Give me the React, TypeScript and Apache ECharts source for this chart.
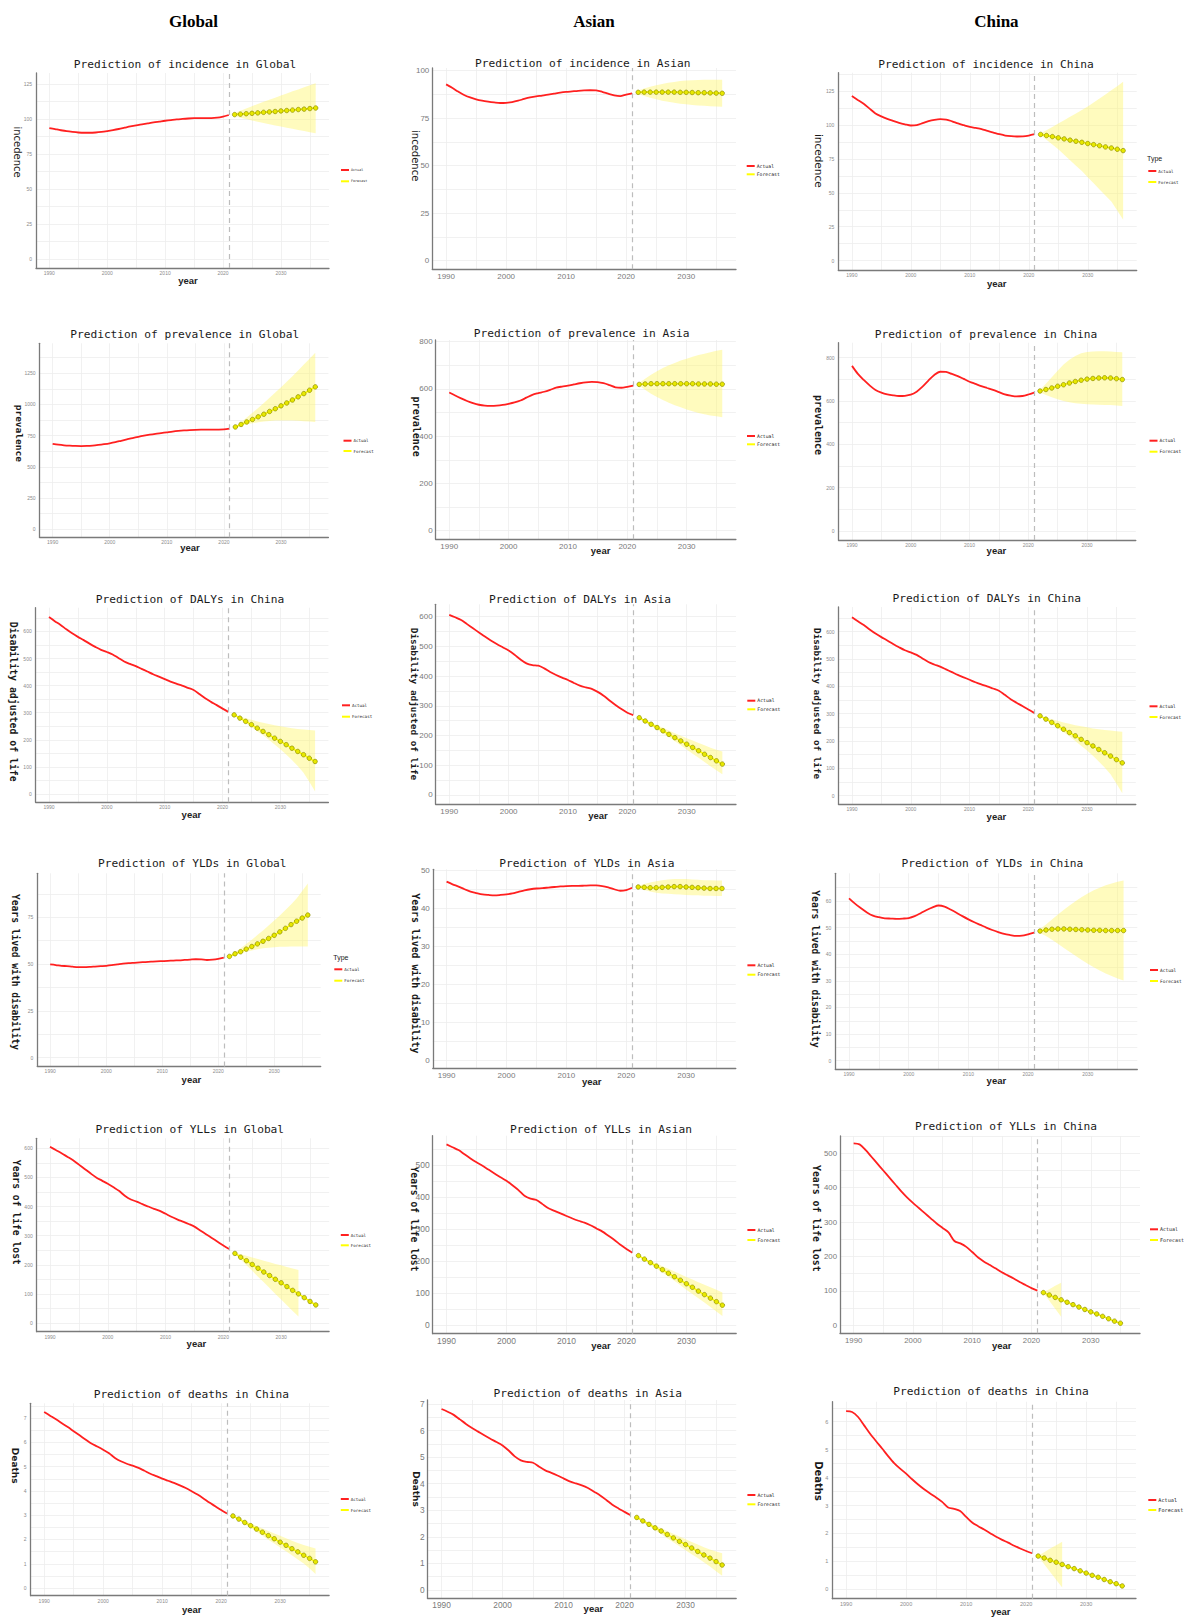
import React, { useEffect, useRef } from "react";
import * as echarts from "echarts";

// ---------------- DATA ----------------
const YEARS_ACTUAL = [1990, 1991, 1992, 1993, 1994, 1995, 1996, 1997, 1998, 1999, 2000, 2001, 2002, 2003, 2004, 2005, 2006, 2007, 2008, 2009, 2010, 2011, 2012, 2013, 2014, 2015, 2016, 2017, 2018, 2019, 2020, 2021];
const YEARS_FORECAST = [2022, 2023, 2024, 2025, 2026, 2027, 2028, 2029, 2030, 2031, 2032, 2033, 2034, 2035, 2036];
const X_LABELS = [1990, 2000, 2010, 2020, 2030];
const X_GRID = [1990, 1995, 2000, 2005, 2010, 2015, 2020, 2025, 2030, 2035];
const DIVIDER_YEAR = 2021;

const TICKS_INC_125 = [0, 25, 50, 75, 100, 125];
const TICKS_INC_100 = [0, 25, 50, 75, 100];
const TICKS_PREV_GLOBAL = [0, 250, 500, 750, 1000, 1250];
const TICKS_PREV_800 = [0, 200, 400, 600, 800];
const TICKS_600 = [0, 100, 200, 300, 400, 500, 600];
const TICKS_500 = [0, 100, 200, 300, 400, 500];
const TICKS_YLD_GLOBAL = [0, 25, 50, 75];
const TICKS_YLD_ASIA = [0, 10, 20, 30, 40, 50];
const TICKS_YLD_CHINA = [0, 10, 20, 30, 40, 50, 60];
const TICKS_DEATH_7 = [0, 1, 2, 3, 4, 5, 6, 7];
const TICKS_DEATH_6 = [0, 1, 2, 3, 4, 5, 6];

// incidence
const incGlobalActual = [93.6, 92.8, 92.0, 91.3, 90.8, 90.4, 90.2, 90.2, 90.4, 90.8, 91.4, 92.1, 92.9, 93.8, 94.7, 95.5, 96.2, 96.9, 97.6, 98.2, 98.8, 99.3, 99.7, 100.1, 100.4, 100.6, 100.7, 100.7, 100.7, 101.0, 101.8, 102.9];
const incGlobalForecast = [103.2, 103.5, 103.8, 104.1, 104.4, 104.8, 105.1, 105.4, 105.8, 106.1, 106.4, 106.8, 107.1, 107.5, 107.9];
const incGlobalUpper = [104.3, 106.0, 107.6, 109.2, 110.8, 112.3, 113.8, 115.3, 116.8, 118.3, 119.8, 121.2, 122.7, 124.1, 125.5];
const incGlobalLower = [102.1, 101.0, 100.0, 99.0, 98.1, 97.2, 96.3, 95.4, 94.6, 93.8, 93.0, 92.2, 91.4, 90.6, 89.8];

const incAsianActual = [92.8, 91.0, 89.0, 87.2, 85.9, 84.9, 84.2, 83.7, 83.3, 83.0, 83.1, 83.5, 84.2, 85.1, 85.9, 86.5, 86.9, 87.4, 87.9, 88.4, 88.8, 89.1, 89.4, 89.6, 89.7, 89.6, 88.9, 87.9, 87.0, 86.6, 87.4, 88.1];
const incAsianForecast = [88.6, 88.7, 88.7, 88.7, 88.7, 88.7, 88.7, 88.6, 88.6, 88.5, 88.4, 88.4, 88.3, 88.2, 88.1];
const incAsianUpper = [89.5, 90.6, 91.5, 92.3, 93.0, 93.6, 94.1, 94.5, 94.8, 95.0, 95.1, 95.2, 95.2, 95.2, 95.2];
const incAsianLower = [87.7, 86.7, 85.7, 84.9, 84.2, 83.6, 83.1, 82.6, 82.3, 82.0, 81.7, 81.5, 81.3, 81.1, 81.0];

const incChinaActual = [121.3, 118.4, 115.6, 112.0, 108.5, 106.3, 104.5, 103.0, 101.6, 100.5, 99.6, 99.9, 101.3, 102.8, 103.8, 104.3, 104.0, 102.7, 101.1, 99.8, 98.6, 97.8, 96.9, 95.6, 94.4, 93.2, 92.2, 91.7, 91.5, 91.6, 92.2, 93.2];
const incChinaForecast = [93.0, 92.2, 91.4, 90.5, 89.7, 88.8, 88.0, 87.2, 86.3, 85.5, 84.7, 83.8, 83.0, 82.1, 81.1];
const incChinaUpper = [93.8, 96.0, 98.5, 101.0, 103.5, 106.0, 108.5, 111.0, 113.5, 116.5, 119.5, 122.5, 125.5, 128.5, 131.9];
const incChinaLower = [92.2, 89.0, 85.5, 82.0, 78.0, 74.0, 70.0, 66.0, 61.5, 57.0, 52.5, 48.0, 43.5, 37.0, 30.1];

// prevalence
const prevGlobalActual = [685, 678, 673, 670, 668, 667, 668, 671, 676, 682, 689, 698, 709, 720, 731, 741, 750, 758, 765, 771, 777, 783, 788, 792, 795, 797, 798, 798, 798, 799, 801, 806];
const prevGlobalForecast = [820, 840, 860, 880, 901, 922, 944, 966, 989, 1012, 1036, 1061, 1087, 1114, 1141];
const prevGlobalUpper = [822, 858, 895, 933, 972, 1012, 1053, 1095, 1138, 1182, 1227, 1273, 1320, 1367, 1414];
const prevGlobalLower = [818, 830, 841, 850, 858, 864, 868, 871, 872, 872, 871, 869, 866, 863, 860];

const prevAsiaActual = [585, 572, 560, 549, 540, 533, 529, 528, 529, 532, 537, 543, 551, 563, 575, 582, 588, 596, 605, 610, 614, 619, 624, 628, 630, 629, 624, 616, 607, 605, 609, 614];
const prevAsiaForecast = [619, 621, 622, 622, 622, 622, 622, 622, 622, 622, 621, 621, 621, 620, 620];
const prevAsiaUpper = [625, 643, 660, 675, 688, 700, 710, 720, 728, 736, 743, 749, 755, 761, 766];
const prevAsiaLower = [614, 596, 580, 566, 553, 541, 531, 522, 513, 505, 498, 493, 488, 484, 480];

const prevChinaActual = [762, 725, 697, 672, 651, 639, 631, 626, 623, 624, 629, 643, 666, 694, 720, 735, 734, 725, 715, 702, 689, 679, 669, 660, 651, 641, 631, 625, 621, 623, 630, 639];
const prevChinaForecast = [646, 653, 660, 668, 675, 683, 690, 696, 701, 704, 706, 707, 706, 703, 699];
const prevChinaUpper = [652, 680, 710, 740, 768, 790, 808, 820, 826, 828, 829, 829, 828, 826, 825];
const prevChinaLower = [640, 628, 617, 608, 600, 594, 590, 587, 585, 584, 583, 582, 581, 579, 577];

// DALYs
const dalyChinaActual = [653, 638, 624, 608, 593, 580, 568, 555, 543, 532, 524, 515, 502, 489, 480, 472, 462, 452, 442, 433, 424, 415, 407, 400, 392, 384, 369, 353, 340, 328, 315, 303];
const dalyChinaForecast = [292, 280, 268, 256, 243, 231, 219, 206, 194, 182, 169, 157, 145, 132, 120];
const dalyChinaUpper = [293, 286, 280, 274, 268, 263, 258, 254, 250, 246, 243, 240, 238, 236, 234];
const dalyChinaLower = [290, 276, 262, 247, 232, 217, 200, 183, 165, 146, 125, 103, 78, 45, 9];

const dalyAsiaActual = [606, 598, 589, 575, 561, 547, 533, 520, 508, 497, 486, 472, 456, 443, 437, 435, 426, 414, 404, 395, 387, 377, 368, 362, 357, 347, 334, 318, 303, 289, 277, 269];
const dalyAsiaForecast = [260, 249, 238, 227, 216, 204, 193, 182, 171, 160, 149, 137, 126, 115, 104];
const dalyAsiaUpper = [262, 253, 244, 235, 226, 217, 208, 199, 191, 183, 175, 167, 159, 152, 146];
const dalyAsiaLower = [258, 245, 233, 220, 207, 194, 181, 167, 153, 139, 125, 111, 97, 83, 70];

// YLDs
const yldGlobalActual = [49.8, 49.5, 49.1, 48.9, 48.6, 48.4, 48.4, 48.5, 48.7, 48.9, 49.1, 49.4, 49.8, 50.2, 50.5, 50.7, 50.9, 51.1, 51.3, 51.5, 51.6, 51.7, 51.9, 52.0, 52.2, 52.4, 52.6, 52.5, 52.2, 52.4, 52.8, 53.4];
const yldGlobalForecast = [54.1, 55.5, 56.6, 58.0, 59.4, 60.8, 62.2, 63.7, 65.4, 67.2, 69.1, 71.1, 72.9, 74.6, 76.2];
const yldGlobalUpper = [54.5, 56.5, 58.5, 60.8, 63.0, 65.5, 68.0, 70.6, 73.3, 76.0, 78.9, 81.9, 85.1, 89.0, 93.1];
const yldGlobalLower = [53.8, 54.9, 55.8, 56.6, 57.3, 57.9, 58.4, 58.7, 59.0, 59.2, 59.3, 59.4, 59.4, 59.4, 59.4];

const yldAsiaActual = [47.1, 46.4, 45.8, 45.1, 44.5, 44.1, 43.75, 43.6, 43.5, 43.6, 43.75, 44.0, 44.4, 44.8, 45.1, 45.3, 45.4, 45.55, 45.7, 45.85, 45.95, 46.0, 46.0, 46.05, 46.1, 46.1, 45.95, 45.6, 45.1, 44.7, 44.9, 45.5];
const yldAsiaForecast = [45.7, 45.6, 45.5, 45.5, 45.6, 45.7, 45.8, 45.8, 45.7, 45.6, 45.5, 45.4, 45.3, 45.3, 45.3];
const yldAsiaUpper = [46.0, 46.5, 46.9, 47.2, 47.5, 47.7, 47.8, 47.8, 47.8, 47.7, 47.6, 47.5, 47.5, 47.4, 47.4];
const yldAsiaLower = [45.4, 44.9, 44.5, 44.2, 44.0, 43.9, 43.8, 43.7, 43.6, 43.5, 43.5, 43.4, 43.4, 43.3, 43.3];

const yldChinaActual = [61.0, 59.0, 57.3, 55.7, 54.5, 53.9, 53.5, 53.4, 53.3, 53.4, 53.6, 54.3, 55.4, 56.6, 57.6, 58.3, 57.9, 56.8, 55.6, 54.3, 53.1, 52.0, 51.0, 50.0, 49.1, 48.3, 47.6, 47.2, 46.9, 47.0, 47.5, 48.1];
const yldChinaForecast = [48.7, 49.1, 49.4, 49.5, 49.5, 49.4, 49.3, 49.2, 49.1, 49.0, 49.0, 48.9, 48.9, 48.9, 48.9];
const yldChinaUpper = [49.5, 51.2, 53.0, 54.9, 56.7, 58.4, 60.0, 61.5, 62.8, 64.0, 65.0, 65.9, 66.6, 67.2, 67.7];
const yldChinaLower = [48.0, 46.8, 45.4, 43.9, 42.3, 40.8, 39.3, 37.8, 36.4, 35.1, 33.9, 32.8, 31.8, 30.9, 30.1];

// YLLs
const yllGlobalActual = [605, 594, 583, 571, 559, 544, 529, 514, 500, 489, 478, 466, 453, 436, 424, 417, 408, 400, 392, 385, 375, 365, 356, 348, 340, 331, 318, 305, 292, 279, 266, 254];
const yllGlobalForecast = [239, 226, 214, 201, 188, 175, 163, 150, 138, 125, 112, 100, 87, 74, 62];
const yllGlobalUpper = [241, 236, 231, 225, 220, 214, 209, 203, 198, 192, 187, 182];
const yllGlobalLower = [237, 218, 198, 179, 159, 140, 120, 100, 81, 61, 41, 22];

const yllAsianActual = [565, 556, 547, 534, 521, 509, 498, 486, 474, 462, 451, 437, 422, 404, 395, 391, 378, 365, 357, 349, 341, 333, 326, 320, 312, 302, 292, 279, 266, 251, 238, 226];
const yllAsianForecast = [217, 206, 195, 184, 173, 162, 151, 140, 129, 118, 106, 95, 84, 73, 62];
const yllAsianUpper = [219, 210, 201, 193, 184, 176, 167, 159, 150, 142, 134, 126, 118, 110, 102];
const yllAsianLower = [215, 203, 190, 177, 164, 151, 138, 124, 110, 97, 84, 70, 56, 42, 28];

const yllChinaActual = [529, 526, 510, 490, 470, 450, 430, 410, 390, 372, 356, 341, 326, 311, 296, 283, 270, 245, 238, 228, 213, 197, 185, 175, 165, 154, 145, 136, 126, 117, 108, 101];
const yllChinaForecast = [95, 88, 81, 74, 67, 60, 53, 46, 39, 33, 26, 19, 12, 6];
const yllChinaUpper = [96, 105, 115, 124];
const yllChinaLower = [94, 71, 48, 25];

// deaths
const deathCol1Actual = [7.25, 7.10, 6.95, 6.79, 6.63, 6.46, 6.29, 6.12, 5.95, 5.83, 5.70, 5.55, 5.36, 5.22, 5.12, 5.04, 4.95, 4.83, 4.71, 4.61, 4.51, 4.42, 4.33, 4.23, 4.12, 3.99, 3.85, 3.69, 3.52, 3.37, 3.21, 3.07];
const deathCol1Forecast = [2.97, 2.84, 2.70, 2.57, 2.43, 2.30, 2.16, 2.03, 1.89, 1.76, 1.62, 1.49, 1.35, 1.22, 1.08];
const deathCol1Upper = [3.0, 2.89, 2.78, 2.67, 2.56, 2.45, 2.35, 2.25, 2.15, 2.05, 1.95, 1.86, 1.77, 1.70, 1.63];
const deathCol1Lower = [2.94, 2.79, 2.63, 2.47, 2.31, 2.15, 1.99, 1.83, 1.67, 1.51, 1.35, 1.18, 1.01, 0.80, 0.58];

const deathAsiaActual = [6.81, 6.71, 6.59, 6.42, 6.25, 6.10, 5.96, 5.82, 5.69, 5.57, 5.44, 5.25, 5.03, 4.88, 4.82, 4.79, 4.64, 4.50, 4.41, 4.31, 4.20, 4.09, 4.01, 3.94, 3.84, 3.70, 3.56, 3.39, 3.21, 3.07, 2.94, 2.81];
const deathAsiaForecast = [2.73, 2.60, 2.47, 2.34, 2.22, 2.09, 1.96, 1.83, 1.71, 1.58, 1.45, 1.32, 1.20, 1.07, 0.94];
const deathAsiaUpper = [2.76, 2.65, 2.54, 2.43, 2.33, 2.22, 2.12, 2.01, 1.91, 1.81, 1.71, 1.61, 1.52, 1.45, 1.38];
const deathAsiaLower = [2.70, 2.55, 2.40, 2.25, 2.10, 1.95, 1.80, 1.65, 1.50, 1.35, 1.20, 1.04, 0.88, 0.71, 0.54];

const deathChinaActual = [6.38, 6.35, 6.17, 5.87, 5.57, 5.30, 5.04, 4.77, 4.52, 4.32, 4.14, 3.94, 3.75, 3.58, 3.43, 3.29, 3.13, 2.93, 2.88, 2.80, 2.59, 2.39, 2.26, 2.14, 2.01, 1.88, 1.77, 1.67, 1.56, 1.46, 1.37, 1.29];
const deathChinaForecast = [1.19, 1.12, 1.04, 0.97, 0.89, 0.81, 0.74, 0.66, 0.58, 0.50, 0.43, 0.35, 0.27, 0.20, 0.12];
const deathChinaUpper = [1.20, 1.33, 1.46, 1.58, 1.70];
const deathChinaLower = [1.18, 0.90, 0.62, 0.34, 0.06];

const COLUMN_HEADERS = ["Global", "Asian", "China"];

// ---------------- STYLE / LAYOUT ----------------
const MONO = "'DejaVu Sans Mono', monospace";
const SANS = "'DejaVu Sans', sans-serif";
const ARIAL = "'Liberation Sans', Arial, sans-serif";
const RED = "#FF2020";
const YELLOW_LINE = "#FFFF00";
const BAND_FILL = "rgba(255, 245, 100, 0.42)";
const GRID_COLOR = "#EDEDED";

const X_RANGE = [1987.7, 2038.3];

const PANELS: any[] = [
  // row 1
  { title: "Prediction of incidence in Global", yName: "incedence", yFont: SANS, yFs: 10, yBold: false,
    actual: incGlobalActual, forecast: incGlobalForecast, upper: incGlobalUpper, lower: incGlobalLower,
    box: [36, 73, 329, 268], yRange: [-6.4, 132.9], yTicks: TICKS_INC_125, tickFs: 5,
    titlePos: [185, 64], yNamePos: [17, 152], xNamePos: [188, 280], legend: { x: 341, y1: 170, y2: 181.3, fs: 3.4 } },
  { title: "Prediction of incidence in Asian", yName: "incedence", yFont: SANS, yFs: 10, yBold: false,
    actual: incAsianActual, forecast: incAsianForecast, upper: incAsianUpper, lower: incAsianLower,
    box: [432.3, 68, 736, 269.3], yRange: [-4.5, 101.4], yTicks: TICKS_INC_100, tickFs: 8,
    titlePos: [582.7, 63.3], yNamePos: [415, 155.7], xNamePos: null, legend: { x: 746.7, y1: 166, y2: 174.3, fs: 4.8 } },
  { title: "Prediction of incidence in China", yName: "incedence", yFont: SANS, yFs: 10.5, yBold: false,
    actual: incChinaActual, forecast: incChinaForecast, upper: incChinaUpper, lower: incChinaLower,
    box: [838.3, 72.7, 1136.7, 270], yRange: [-6.9, 138.5], yTicks: TICKS_INC_125, tickFs: 5,
    titlePos: [986, 64], yNamePos: [819, 160.8], xNamePos: [996.7, 283.3], legend: { x: 1148.3, y1: 171, y2: 182, fs: 4.2, type: [1147, 158.3] } },
  // row 2
  { title: "Prediction of prevalence in Global", yName: "prevalence", yFont: MONO, yFs: 9.5, yBold: true,
    actual: prevGlobalActual, forecast: prevGlobalForecast, upper: prevGlobalUpper, lower: prevGlobalLower,
    box: [39.5, 343.3, 328.4, 537.3], yRange: [-64, 1490], yTicks: TICKS_PREV_GLOBAL, tickFs: 5,
    titlePos: [184.7, 334.7], yNamePos: [19, 433.3], xNamePos: [190, 547.3], legend: { x: 343.5, y1: 440.7, y2: 451, fs: 4.2 } },
  { title: "Prediction of prevalence in Asia", yName: "prevalence", yFont: MONO, yFs: 10, yBold: true,
    actual: prevAsiaActual, forecast: prevAsiaForecast, upper: prevAsiaUpper, lower: prevAsiaLower,
    box: [435.6, 340, 735.9, 539.3], yRange: [-36.4, 807], yTicks: TICKS_PREV_800, tickFs: 8,
    titlePos: [581.6, 333.3], yNamePos: [416.6, 426.7], xNamePos: [600.6, 550], legend: { x: 747, y1: 436, y2: 444.3, fs: 4.8 } },
  { title: "Prediction of prevalence in China", yName: "prevalence", yFont: MONO, yFs: 10, yBold: true,
    actual: prevChinaActual, forecast: prevChinaForecast, upper: prevChinaUpper, lower: prevChinaLower,
    box: [838.5, 342.7, 1135.8, 540], yRange: [-41.5, 869], yTicks: TICKS_PREV_800, tickFs: 5,
    titlePos: [986, 334], yNamePos: [818.8, 425], xNamePos: [996.4, 550.5], legend: { x: 1149.5, y1: 440.7, y2: 451.7, fs: 4.5 } },
  // row 3
  { title: "Prediction of DALYs in China", yName: "Disability adjusted of life", yFont: MONO, yFs: 9.85, yBold: true,
    actual: dalyChinaActual, forecast: dalyChinaForecast, upper: dalyChinaUpper, lower: dalyChinaLower,
    box: [35.7, 607.7, 328.4, 802.3], yRange: [-30.7, 687.6], yTicks: TICKS_600, tickFs: 5,
    titlePos: [190, 599.3], yNamePos: [13.7, 701.7], xNamePos: [191.4, 814.3], legend: { x: 342, y1: 705.3, y2: 716.7, fs: 4.2 } },
  { title: "Prediction of DALYs in Asia", yName: "Disability adjusted of life", yFont: MONO, yFs: 9.4, yBold: true,
    actual: dalyAsiaActual, forecast: dalyAsiaForecast, upper: dalyAsiaUpper, lower: dalyAsiaLower,
    box: [435.6, 604.3, 736, 804.3], yRange: [-31.3, 641.7], yTicks: TICKS_600, tickFs: 8,
    titlePos: [580, 599.3], yNamePos: [414.3, 704], xNamePos: [598, 815.3], legend: { x: 747.3, y1: 700.7, y2: 709.3, fs: 4.8 } },
  { title: "Prediction of DALYs in China", yName: "Disability adjusted of life", yFont: MONO, yFs: 9.3, yBold: true,
    actual: dalyChinaActual, forecast: dalyChinaForecast, upper: dalyChinaUpper, lower: dalyChinaLower,
    box: [838.5, 607, 1135.8, 804.3], yRange: [-31.5, 690.2], yTicks: TICKS_600, tickFs: 5,
    titlePos: [986.8, 598.3], yNamePos: [817.3, 703.6], xNamePos: [996.4, 816.4], legend: { x: 1149.5, y1: 706.3, y2: 717, fs: 4.5 } },
  // row 4
  { title: "Prediction of YLDs in Global", yName: "Years lived with disability", yFont: MONO, yFs: 9.6, yBold: true,
    actual: yldGlobalActual, forecast: yldGlobalForecast, upper: yldGlobalUpper, lower: yldGlobalLower,
    box: [37.3, 873.3, 320.7, 1066.4], yRange: [-4.65, 98.5], yTicks: TICKS_YLD_GLOBAL, tickFs: 5,
    titlePos: [192.3, 863.3], yNamePos: [15, 972], xNamePos: [191.4, 1079.2], legend: { x: 334.3, y1: 969.3, y2: 980.7, fs: 4.2, type: [333.3, 957.3] } },
  { title: "Prediction of YLDs in Asia", yName: "Years lived with disability", yFont: MONO, yFs: 9.85, yBold: true,
    actual: yldAsiaActual, forecast: yldAsiaForecast, upper: yldAsiaUpper, lower: yldAsiaLower,
    box: [432.8, 869.3, 735.8, 1068.3], yRange: [-2.19, 50.37], yTicks: TICKS_YLD_ASIA, tickFs: 8,
    titlePos: [586.9, 863.3], yNamePos: [415.2, 973.3], xNamePos: [591.8, 1081.3], legend: { x: 747.4, y1: 965.3, y2: 974.7, fs: 4.8 } },
  { title: "Prediction of YLDs in China", yName: "Years lived with disability", yFont: MONO, yFs: 9.7, yBold: true,
    actual: yldChinaActual, forecast: yldChinaForecast, upper: yldChinaUpper, lower: yldChinaLower,
    box: [835.3, 873.3, 1137.3, 1069], yRange: [-3.12, 70.4], yTicks: TICKS_YLD_CHINA, tickFs: 5,
    titlePos: [992.4, 863.3], yNamePos: [815, 969], xNamePos: [996.4, 1080.2], legend: { x: 1150, y1: 970, y2: 981, fs: 4.5 } },
  // row 5
  { title: "Prediction of YLLs in Global", yName: "Years of life lost", yFont: MONO, yFs: 9.7, yBold: true,
    actual: yllGlobalActual, forecast: yllGlobalForecast, upper: yllGlobalUpper, lower: yllGlobalLower,
    box: [36.7, 1138.3, 329.1, 1331.7], yRange: [-29.9, 634.3], yTicks: TICKS_600, tickFs: 5,
    titlePos: [189.8, 1129.3], yNamePos: [16.3, 1212.3], xNamePos: [196.4, 1343.3], legend: { x: 340.8, y1: 1235, y2: 1245.3, fs: 4.2 } },
  { title: "Prediction of YLLs in Asian", yName: "Years of life lost", yFont: MONO, yFs: 9.7, yBold: true,
    actual: yllAsianActual, forecast: yllAsianForecast, upper: yllAsianUpper, lower: yllAsianLower,
    box: [432.7, 1135.7, 736.2, 1333.7], yRange: [-27.2, 592], yTicks: TICKS_500, tickFs: 8.5,
    titlePos: [601, 1129], yNamePos: [414.3, 1219], xNamePos: [601, 1345], legend: { x: 747.4, y1: 1230, y2: 1240, fs: 4.8 } },
  { title: "Prediction of YLLs in China", yName: "Years of life lost", yFont: MONO, yFs: 9.85, yBold: true,
    actual: yllChinaActual, forecast: yllChinaForecast, upper: yllChinaUpper, lower: yllChinaLower,
    box: [840, 1136, 1140, 1333.3], yRange: [-23.3, 550.3], yTicks: TICKS_500, tickFs: 7.8,
    titlePos: [1006, 1126.7], yNamePos: [816.7, 1218.3], xNamePos: [1001.7, 1345], legend: { x: 1150, y1: 1229.3, y2: 1240, fs: 5 } },
  // row 6
  { title: "Prediction of deaths in China", yName: "Deaths", yFont: SANS, yFs: 9, yBold: true,
    actual: deathCol1Actual, forecast: deathCol1Forecast, upper: deathCol1Upper, lower: deathCol1Lower,
    box: [30.6, 1403.3, 329.1, 1595.7], yRange: [-0.316, 7.61], yTicks: TICKS_DEATH_7, tickFs: 5,
    titlePos: [191.3, 1394], yNamePos: [15.3, 1465.7], xNamePos: [191.8, 1609], legend: { x: 340.8, y1: 1499, y2: 1510, fs: 4.2 } },
  { title: "Prediction of deaths in Asia", yName: "Deaths", yFont: SANS, yFs: 9, yBold: true,
    actual: deathAsiaActual, forecast: deathAsiaForecast, upper: deathAsiaUpper, lower: deathAsiaLower,
    box: [427.5, 1400, 736.2, 1598.3], yRange: [-0.312, 7.15], yTicks: TICKS_DEATH_7, tickFs: 8.3,
    titlePos: [587.8, 1393.3], yNamePos: [415.8, 1489], xNamePos: [593.4, 1608.3], legend: { x: 747.4, y1: 1495, y2: 1504.3, fs: 4.8 } },
  { title: "Prediction of deaths in China", yName: "Deaths", yFont: SANS, yFs: 10, yBold: true,
    actual: deathChinaActual, forecast: deathChinaForecast, upper: deathChinaUpper, lower: deathChinaLower,
    box: [832.3, 1401.7, 1136, 1598.7], yRange: [-0.337, 6.717], yTicks: TICKS_DEATH_6, tickFs: 5.5,
    titlePos: [991, 1391.7], yNamePos: [818.3, 1481], xNamePos: [1000.7, 1611.7], legend: { x: 1148.3, y1: 1500, y2: 1510, fs: 5.2 } },
];

const HEADER_POS = [[193.5, 21], [594, 21], [996.4, 21]];

function minorsOf(ticks: number[], min: number, max: number) {
  const step = ticks[1] - ticks[0];
  const out: number[] = [];
  ticks.forEach((t) => {
    const m = t + step / 2;
    if (m > min && m < max) out.push(m);
  });
  return out;
}

function buildOption() {
  const grid: any[] = [];
  const xAxis: any[] = [];
  const yAxis: any[] = [];
  const series: any[] = [];
  const graphic: any[] = [];

  PANELS.forEach((p, i) => {
    const [L, T, R, B] = p.box;
    grid.push({ left: L, top: T, width: R - L, height: B - T, containLabel: false });
    const axisLine = { show: true, onZero: false, lineStyle: { color: "#7A7A7A", width: 1.3 } };
    const labelColor = p.tickFs >= 7 ? "#7A7A7A" : "#8C8C8C";
    xAxis.push({
      type: "value", gridIndex: i, min: X_RANGE[0], max: X_RANGE[1],
      axisLine,
      axisTick: { show: false, customValues: X_GRID },
      axisLabel: { customValues: X_LABELS, fontSize: p.tickFs, color: labelColor, fontFamily: ARIAL, margin: p.tickFs >= 7 ? 3 : 2.5, formatter: (v: number) => String(v) },
      splitLine: { show: true, lineStyle: { color: GRID_COLOR, width: 0.8 } },
    });
    const yGrid = p.yTicks.concat(minorsOf(p.yTicks, p.yRange[0], p.yRange[1])).sort((a: number, b: number) => a - b);
    yAxis.push({
      type: "value", gridIndex: i, min: p.yRange[0], max: p.yRange[1],
      axisLine,
      axisTick: { show: false, customValues: yGrid },
      axisLabel: { customValues: p.yTicks, fontSize: p.tickFs, color: labelColor, fontFamily: ARIAL, margin: p.tickFs >= 7 ? 3 : 4, formatter: (v: number) => String(v) },
      splitLine: { show: true, lineStyle: { color: GRID_COLOR, width: 0.8 } },
    });

    const up = p.upper;
    const lo = p.lower;
    series.push({
      type: "custom", name: "band", xAxisIndex: i, yAxisIndex: i, silent: true, z: 1,
      data: up.map((u: number, k: number) => [YEARS_FORECAST[k], lo[k], u]),
      encode: { x: 0, y: [1, 2] },
      renderItem: (params: any, api: any) => {
        if (params.dataIndex !== 0) return null;
        const pts: number[][] = [];
        for (let k = 0; k < up.length; k++) pts.push(api.coord([YEARS_FORECAST[k], up[k]]));
        for (let k = lo.length - 1; k >= 0; k--) pts.push(api.coord([YEARS_FORECAST[k], lo[k]]));
        return { type: "polygon", shape: { points: pts }, style: { fill: BAND_FILL, stroke: "none" } };
      },
    });
    series.push({
      type: "line", name: "Actual", xAxisIndex: i, yAxisIndex: i, z: 3,
      data: YEARS_ACTUAL.map((y, k) => [y, p.actual[k]]),
      smooth: 0.3, symbol: "none", showSymbol: false,
      lineStyle: { color: RED, width: 1.8 }, itemStyle: { color: RED },
      markLine: {
        silent: true, symbol: ["none", "none"], label: { show: false },
        lineStyle: { color: "#BDBDBD", type: [5, 4], width: 1.2 },
        data: [{ xAxis: DIVIDER_YEAR }],
      },
    });
    series.push({
      type: "line", name: "Forecast", xAxisIndex: i, yAxisIndex: i, z: 4,
      data: p.forecast.map((v: number, k: number) => [YEARS_FORECAST[k], v]),
      symbol: "circle", symbolSize: 4.5, showSymbol: true,
      lineStyle: { color: YELLOW_LINE, width: 1.6 },
      itemStyle: { color: "#E8E800", borderColor: "#8C8C00", borderWidth: 0.7 },
    });

    // title
    graphic.push({
      type: "text", x: p.titlePos[0], y: p.titlePos[1], silent: true,
      style: { text: p.title, fill: "#1A1A1A", fontSize: 11.2, fontFamily: MONO, align: "center", verticalAlign: "middle", textAlign: "center", textVerticalAlign: "middle" },
    });
    // y name
    graphic.push({
      type: "text", x: p.yNamePos[0], y: p.yNamePos[1], rotation: -Math.PI / 2, silent: true,
      style: { text: p.yName, fill: "#1A1A1A", fontSize: p.yFs, fontFamily: p.yFont, fontWeight: p.yBold ? "bold" : "normal", align: "center", verticalAlign: "middle", textAlign: "center", textVerticalAlign: "middle" },
    });
    // x name
    if (p.xNamePos) {
      graphic.push({
        type: "text", x: p.xNamePos[0], y: p.xNamePos[1], silent: true,
        style: { text: "year", fill: "#222", fontSize: 9.5, fontFamily: ARIAL, fontWeight: "bold", align: "center", verticalAlign: "middle", textAlign: "center", textVerticalAlign: "middle" },
      });
    }
    // legend
    const lg = p.legend;
    const len = 8;
    if (lg.type) {
      graphic.push({
        type: "text", x: lg.type[0], y: lg.type[1], silent: true,
        style: { text: "Type", fill: "#222", fontSize: 7, fontFamily: ARIAL, align: "left", verticalAlign: "middle", textAlign: "left", textVerticalAlign: "middle" },
      });
    }
    [["Actual", lg.y1, RED], ["Forecast", lg.y2, YELLOW_LINE]].forEach(([name, yy, col]: any) => {
      graphic.push({ type: "rect", x: lg.x, y: yy - 1, silent: true, shape: { width: len, height: 2 }, style: { fill: col } });
      graphic.push({
        type: "text", x: lg.x + len + 2, y: yy, silent: true,
        style: { text: name, fill: "#222", fontSize: lg.fs, fontFamily: MONO, align: "left", verticalAlign: "middle", textAlign: "left", textVerticalAlign: "middle" },
      });
    });
  });

  COLUMN_HEADERS.forEach((h, c) => {
    graphic.push({
      type: "text", x: HEADER_POS[c][0], y: HEADER_POS[c][1], silent: true,
      style: { text: h, fill: "#000", fontSize: 17, fontFamily: "'Liberation Serif', 'Times New Roman', serif", fontWeight: "bold", align: "center", verticalAlign: "middle", textAlign: "center", textVerticalAlign: "middle" },
    });
  });

  return { animation: false, backgroundColor: "#FFFFFF", grid, xAxis, yAxis, series, graphic };
}

export default function App() {
  const ref = useRef<HTMLDivElement>(null);
  useEffect(() => {
    if (!ref.current) return;
    const chart = echarts.init(ref.current, undefined, { renderer: "svg" });
    chart.setOption(buildOption() as any);
    return () => chart.dispose();
  }, []);
  return <div ref={ref} style={{ position: "absolute", left: 0, top: 0, width: 1192, height: 1623, background: "#fff" }} />;
}
